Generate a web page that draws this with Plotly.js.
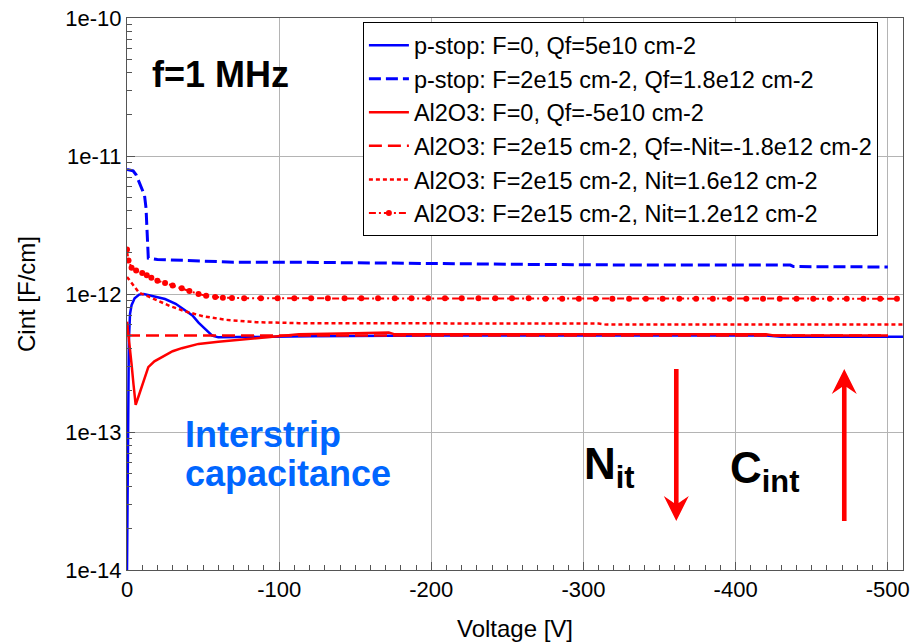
<!DOCTYPE html>
<html>
<head>
<meta charset="utf-8">
<script src="https://cdn.plot.ly/plotly-3.0.1.min.js"></script>
<style>
  html, body { margin: 0; padding: 0; background: #fff; }
  #chart { width: 914px; height: 644px; }
</style>
</head>
<body>
<div id="chart"></div>
<script>
// ---- Data ----
const seriesNames = [
  "p-stop: F=0, Qf=5e10 cm-2",
  "p-stop: F=2e15 cm-2, Qf=1.8e12 cm-2",
  "Al2O3: F=0, Qf=-5e10 cm-2",
  "Al2O3: F=2e15 cm-2, Qf=-Nit=-1.8e12 cm-2",
  "Al2O3: F=2e15 cm-2, Nit=1.6e12 cm-2",
  "Al2O3: F=2e15 cm-2, Nit=1.2e12 cm-2"
];

const vPstop0 = [0, -0.4, -0.8, -1.2, -2, -3, -5, -8, -11, -15, -20, -25, -32, -38, -43, -47, -52, -56, -60, -80, -120, -200, -300, -420, -430, -510];
const cPstop0 = [1e-14, 3e-14, 1.5e-13, 4.5e-13, 7.2e-13, 8.3e-13, 9.3e-13, 9.9e-13, 1.0e-12, 9.8e-13, 9.5e-13, 9.2e-13, 8.5e-13, 7.7e-13, 7.0e-13, 6.2e-13, 5.5e-13, 5.0e-13, 4.85e-13, 4.9e-13, 4.95e-13, 5.0e-13, 5.0e-13, 5.0e-13, 4.9e-13, 4.9e-13];

const vPstopF = [0, -4, -6, -8, -10, -11.5, -12.5, -13, -13.5, -14, -20, -40, -70, -110, -150, -200, -260, -300, -340, -436, -438, -500];
const cPstopF = [8.0e-12, 7.8e-12, 7.3e-12, 6.4e-12, 5.8e-12, 5.2e-12, 4.2e-12, 3.2e-12, 2.2e-12, 1.82e-12, 1.78e-12, 1.74e-12, 1.70e-12, 1.70e-12, 1.68e-12, 1.66e-12, 1.64e-12, 1.63e-12, 1.62e-12, 1.62e-12, 1.58e-12, 1.57e-12];

const vAl0 = [0, -1.7, -3, -4.3, -5.7, -7.5, -9.6, -12, -14, -18, -25, -30, -36, -47, -60, -69, -91, -113, -150, -172, -176, -250, -350, -420, -425, -500];
const cAl0 = [6.3e-13, 4.4e-13, 3.1e-13, 2.2e-13, 1.57e-13, 1.8e-13, 2.1e-13, 2.5e-13, 2.95e-13, 3.25e-13, 3.6e-13, 3.85e-13, 4.05e-13, 4.35e-13, 4.5e-13, 4.6e-13, 4.85e-13, 5.1e-13, 5.2e-13, 5.25e-13, 5.1e-13, 5.1e-13, 5.1e-13, 5.1e-13, 5.0e-13, 5.0e-13];

const vAlQ = [0, -500];
const cAlQ = [5.0e-13, 5.0e-13];

const vAlN16 = [0, -5, -8, -14, -20, -28, -38, -50, -65, -85, -113, -200, -310, -315, -510];
const cAlN16 = [1.33e-12, 1.12e-12, 1.02e-12, 9.6e-13, 9.0e-13, 8.2e-13, 7.5e-13, 6.9e-13, 6.5e-13, 6.25e-13, 6.15e-13, 6.1e-13, 6.1e-13, 6.0e-13, 6.0e-13];

const vAlN12 = [0, -1, -3, -6, -10, -13, -16, -20, -25, -30, -36, -41, -47, -52, -58, -63, -69,
  -77, -88, -99, -110, -121, -132, -143, -154, -165, -176, -187, -198, -209, -220, -231, -242, -253, -264,
  -275, -286, -297, -308, -319, -330, -341, -352, -363, -374, -385, -396, -407, -418, -429, -440, -451,
  -462, -473, -484, -495, -506];
const cAlN12 = [2.1e-12, 1.75e-12, 1.55e-12, 1.48e-12, 1.42e-12, 1.37e-12, 1.31e-12, 1.25e-12, 1.2e-12, 1.15e-12, 1.1e-12, 1.05e-12, 1.0e-12, 9.7e-13, 9.5e-13, 9.4e-13, 9.35e-13,
  9.3e-13, 9.3e-13, 9.3e-13, 9.3e-13, 9.3e-13, 9.3e-13, 9.3e-13, 9.3e-13, 9.3e-13, 9.3e-13, 9.3e-13, 9.3e-13, 9.3e-13, 9.3e-13, 9.3e-13, 9.3e-13, 9.3e-13, 9.3e-13,
  9.25e-13, 9.25e-13, 9.25e-13, 9.25e-13, 9.25e-13, 9.25e-13, 9.25e-13, 9.25e-13, 9.25e-13, 9.25e-13, 9.25e-13, 9.25e-13, 9.25e-13, 9.25e-13, 9.25e-13, 9.25e-13, 9.25e-13,
  9.25e-13, 9.25e-13, 9.25e-13, 9.25e-13, 9.25e-13];

const xTickVals = [0, -100, -200, -300, -400, -500];
const xTickText = ["0", "-100", "-200", "-300", "-400", "-500"];
const yTickVals = [1e-14, 1e-13, 1e-12, 1e-11, 1e-10];
const yTickText = ["1e-14", "1e-13", "1e-12", "1e-11", "1e-10"];

// ---- Styles ----
const FONT = "Liberation Sans, Arial, sans-serif";
const BLUE = "#0000ff";
const RED = "#ff0000";

const traces = [
  { x: vPstop0, y: cPstop0, name: seriesNames[0], mode: "lines",
    line: { color: BLUE, width: 2.5 } },
  { x: vPstopF, y: cPstopF, name: seriesNames[1], mode: "lines",
    line: { color: BLUE, width: 3, dash: "12px,5px" } },
  { x: vAl0, y: cAl0, name: seriesNames[2], mode: "lines",
    line: { color: RED, width: 2.5 } },
  { x: vAlQ, y: cAlQ, name: seriesNames[3], mode: "lines",
    line: { color: RED, width: 2.5, dash: "13px,6px" } },
  { x: vAlN16, y: cAlN16, name: seriesNames[4], mode: "lines",
    line: { color: RED, width: 2.5, dash: "4px,3px" } },
  { x: vAlN12, y: cAlN12, name: seriesNames[5], mode: "lines+markers",
    line: { color: RED, width: 2, dash: "7px,3px,2px,3px" },
    marker: { color: RED, size: 6, symbol: "circle" } }
];

// arrow outlines in pixels relative to the tip (pixel y grows upward)
const arrowPointingDown = "M0,0 L-12.5,25 L-2.3,18 L-2.3,152 L2.3,152 L2.3,18 L12.5,25 Z";
const arrowPointingUp = "M0,0 L-12.5,-25 L-2.3,-18 L-2.3,-152 L2.3,-152 L2.3,-18 L12.5,-25 Z";

const layout = {
  width: 914, height: 644,
  margin: { l: 127, r: 11, t: 18, b: 74 },
  paper_bgcolor: "#ffffff",
  plot_bgcolor: "#ffffff",
  font: { family: FONT, color: "#000000", size: 21 },
  showlegend: true,
  legend: {
    x: 0.304, y: 0.992, xanchor: "left", yanchor: "top",
    bgcolor: "#ffffff", bordercolor: "#000000", borderwidth: 1,
    font: { family: FONT, size: 23.5, color: "#000000" },
    itemwidth: 40, tracegroupgap: 0
  },
  xaxis: {
    range: [0, -510],
    tickmode: "array", tickvals: xTickVals, ticktext: xTickText,
    ticks: "inside", ticklen: 8, tickcolor: "#555555",
    showgrid: true, gridcolor: "#b4b4b4", gridwidth: 1,
    zeroline: false,
    showline: true, linecolor: "#555555", linewidth: 1, mirror: true,
    tickfont: { family: FONT, size: 22, color: "#000000" },
    minor: { dtick: 10, tick0: 0, ticks: "inside", ticklen: 5, tickcolor: "#555555", showgrid: false },
    title: { text: "Voltage [V]", font: { family: FONT, size: 24, color: "#000000" }, standoff: 18 },
    automargin: false
  },
  yaxis: {
    type: "log",
    range: [-14, -10],
    tickmode: "array", tickvals: yTickVals, ticktext: yTickText,
    ticks: "inside", ticklen: 8, tickcolor: "#555555",
    showgrid: true, gridcolor: "#b4b4b4", gridwidth: 1,
    zeroline: false,
    showline: true, linecolor: "#555555", linewidth: 1, mirror: true,
    tickfont: { family: FONT, size: 22, color: "#000000" },
    minor: { dtick: "D1", ticks: "inside", ticklen: 5, tickcolor: "#555555", showgrid: false },
    title: { text: "Cint [F/cm]", font: { family: FONT, size: 24, color: "#000000" }, standoff: 22 },
    automargin: false
  },
  annotations: [
    { xref: "x", yref: "y", x: -15, y: -10.413, xanchor: "left", yanchor: "middle",
      text: "<b>f=1 MHz</b>", showarrow: false,
      font: { family: FONT, size: 36, color: "#000000" } },
    { xref: "x", yref: "y", x: -37, y: -13.0145, xanchor: "left", yanchor: "middle",
      text: "<b>Interstrip</b>", showarrow: false, align: "left",
      font: { family: FONT, size: 36, color: "#0066ff" } },
    { xref: "x", yref: "y", x: -37, y: -13.304, xanchor: "left", yanchor: "middle",
      text: "<b>capacitance</b>", showarrow: false, align: "left",
      font: { family: FONT, size: 36, color: "#0066ff" } },
    { xref: "x", yref: "y", x: -299, y: -13.25, xanchor: "left", yanchor: "middle",
      text: "<b>N<sub>it</sub></b>", showarrow: false,
      font: { family: FONT, size: 44, color: "#000000" } },
    { xref: "x", yref: "y", x: -395, y: -13.28, xanchor: "left", yanchor: "middle",
      text: "<b>C<sub>int</sub></b>", showarrow: false,
      font: { family: FONT, size: 44, color: "#000000" } }
  ],
  shapes: [
    { type: "path", xref: "x", yref: "paper", xsizemode: "pixel", ysizemode: "pixel",
      xanchor: -361, yanchor: 0.0888, path: arrowPointingDown,
      fillcolor: RED, line: { width: 0 } },
    { type: "path", xref: "x", yref: "paper", xsizemode: "pixel", ysizemode: "pixel",
      xanchor: -471.4, yanchor: 0.364, path: arrowPointingUp,
      fillcolor: RED, line: { width: 0 } }
  ]
};

Plotly.newPlot("chart", traces, layout, { displayModeBar: false, staticPlot: true });
</script>
</body>
</html>
